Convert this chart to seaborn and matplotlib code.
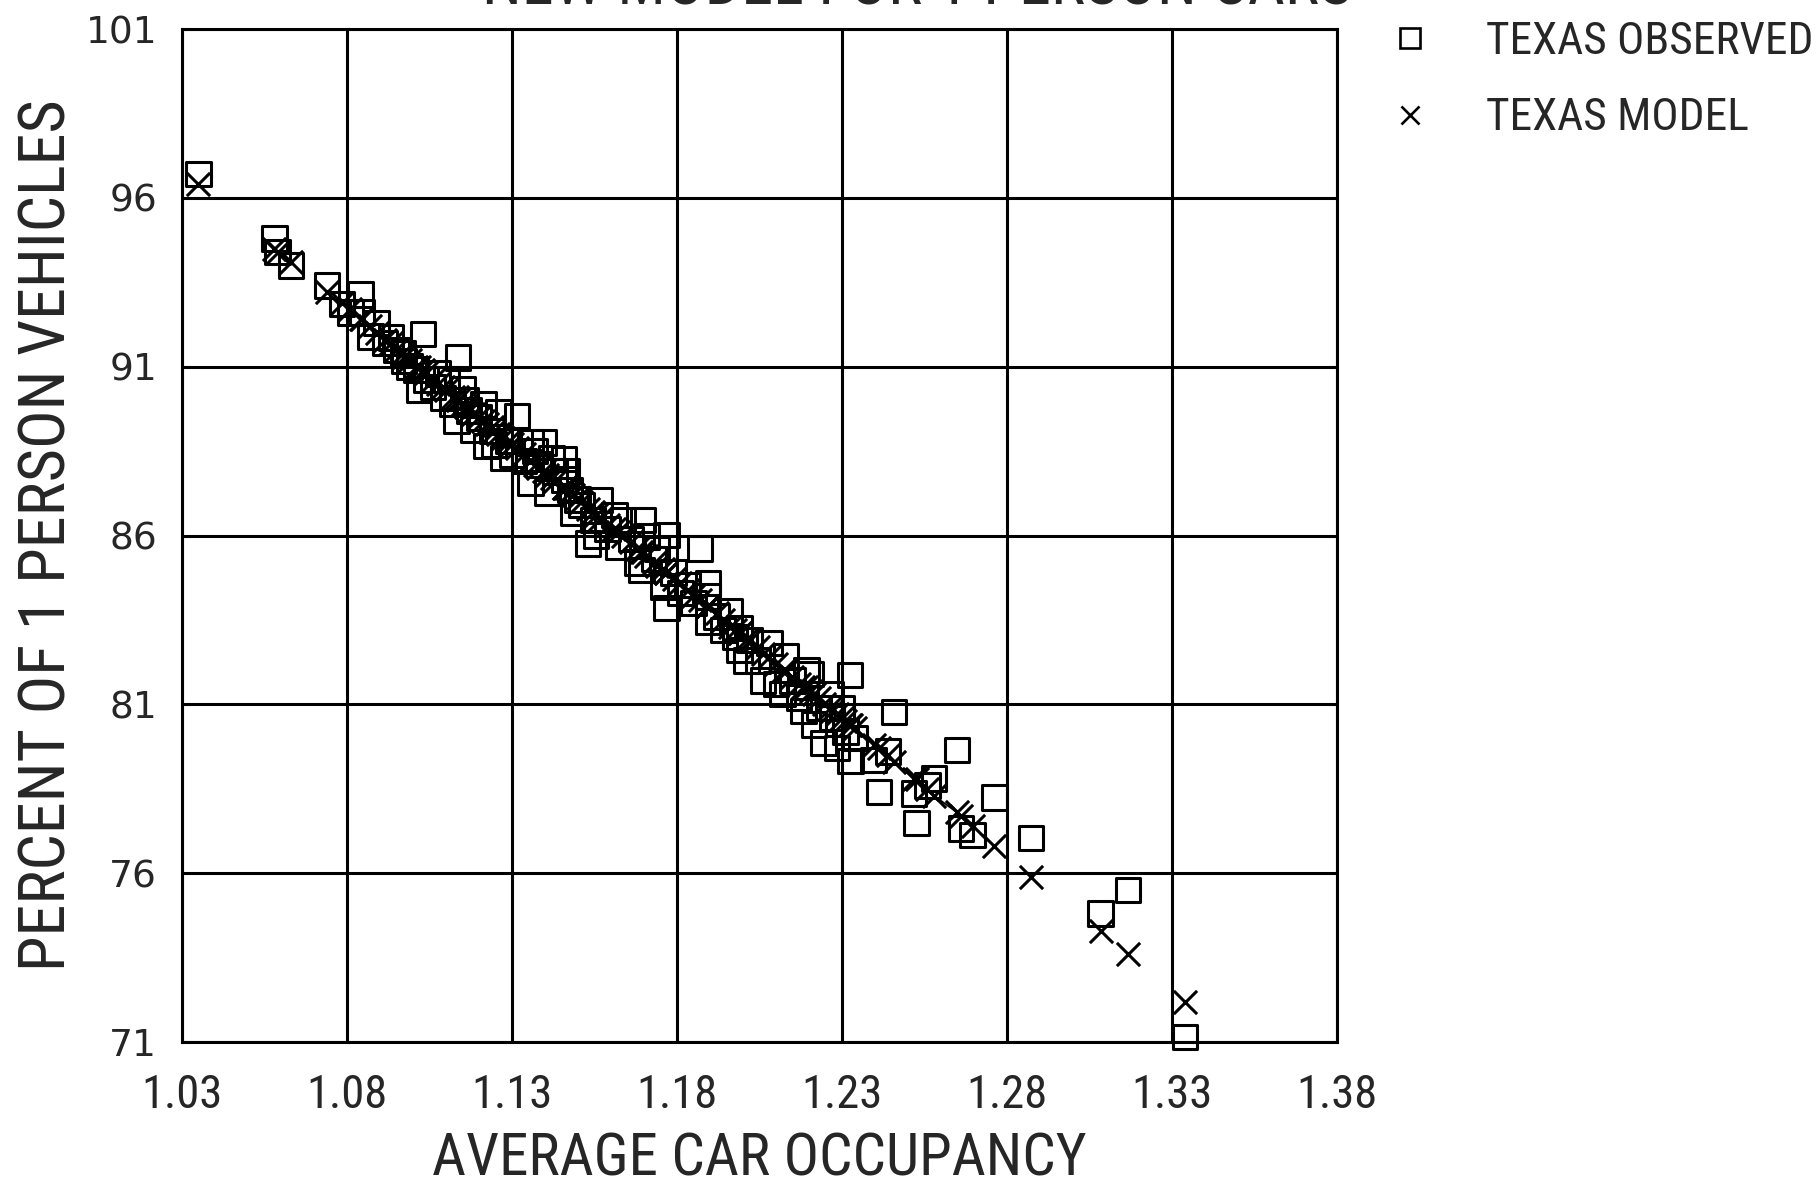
import os
import numpy as np
import pandas as pd
import seaborn as sns
import matplotlib.pyplot as plt
from matplotlib import font_manager
from matplotlib.font_manager import FontProperties
from matplotlib.lines import Line2D

# Average car occupancy for each count site
occupancy = [
    1.035, 1.058, 1.059, 1.063, 1.074, 1.0785, 1.081, 1.0841, 1.0846, 1.0871,
    1.0933, 1.097, 1.0973, 1.1009, 1.103, 1.104, 1.1019, 1.106, 1.1091, 1.1101,
    1.112, 1.1132, 1.1137, 1.1152, 1.117, 1.1183, 1.12, 1.1213, 1.1223, 1.124,
    1.1259, 1.1274, 1.129, 1.1315, 1.1336, 1.1356, 1.1356, 1.138, 1.1397, 1.1407,
    1.143, 1.1458, 1.1458, 1.1465, 1.1475, 1.1485, 1.1499, 1.153, 1.1545, 1.1566,
    1.159, 1.1621, 1.1636, 1.166, 1.1692, 1.1697, 1.1707, 1.173, 1.1758, 1.1768,
    1.1768, 1.179, 1.1833, 1.185, 1.1869, 1.1894, 1.1894, 1.1894, 1.192, 1.196,
    1.1975, 1.199, 1.199, 1.202, 1.2045, 1.206, 1.208, 1.21, 1.213, 1.215,
    1.217, 1.2183, 1.2192, 1.2205, 1.2215, 1.2244, 1.2265, 1.227, 1.2285, 1.23,
    1.231, 1.2325, 1.2326, 1.234, 1.2396, 1.2412, 1.2457, 1.244, 1.2518, 1.2526,
    1.2559, 1.2579, 1.2648, 1.266, 1.2696, 1.2762, 1.2873, 1.3084, 1.3167, 1.334,
    1.089, 1.0915, 1.095, 1.099, 1.1075, 1.116, 1.1245, 1.13, 1.137, 1.142,
    1.151, 1.1555, 1.161, 1.168, 1.174, 1.181, 1.194, 1.201, 1.212, 1.223,
]

# Observed percent of 1 person vehicles
observed = [
    96.7, 94.8, 94.4, 94.0, 93.4, 92.85, 92.6, 93.14, 92.6, 91.9,
    91.86, 91.4, 91.17, 90.92, 91.96, 90.62, 90.33, 90.4, 90.08, 90.62,
    89.9, 89.39, 91.27, 90.33, 89.7, 89.14, 89.5, 89.88, 88.65, 89.1,
    89.64, 88.3, 88.8, 89.54, 88.2, 88.75, 87.56, 88.1, 88.75, 87.27,
    87.9, 88.26, 87.66, 87.9, 87.35, 86.66, 87.07, 85.77, 86.46, 87.06,
    86.2, 85.67, 86.46, 85.9, 84.98, 86.46, 85.97, 85.3, 84.49, 86.02,
    83.85, 84.9, 84.54, 84.0, 85.62, 84.59, 84.19, 83.45, 83.6, 83.75,
    83.0, 83.26, 82.61, 82.9, 82.3, 81.7, 82.81, 81.6, 82.42, 81.7,
    81.2, 80.8, 82.02, 81.9, 80.4, 79.85, 81.3, 80.6, 79.7, 80.9,
    80.2, 81.87, 79.32, 80.0, 79.35, 78.41, 80.78, 79.6, 78.36, 77.48,
    78.6, 78.8, 79.65, 77.33, 77.13, 78.24, 77.05, 74.8, 75.5, 71.15,
    92.3, 91.7, 91.5, 91.0, 90.8, 90.0, 88.7, 88.4, 88.5, 88.3,
    86.9, 86.0, 86.6, 85.2, 85.6, 84.3, 83.2, 82.3, 81.3, 80.9,
]

# Model prediction at the same sites
model = [
    96.4, 94.5, 94.4, 94.1, 93.2, 92.9, 92.7, 92.4, 92.4, 92.2,
    91.7, 91.4, 91.3, 91.0, 90.9, 90.8, 91.0, 90.6, 90.4, 90.3,
    90.1, 90.1, 90.0, 89.9, 89.7, 89.6, 89.5, 89.4, 89.3, 89.2,
    89.0, 88.9, 88.8, 88.6, 88.4, 88.2, 88.2, 88.0, 87.9, 87.8,
    87.6, 87.4, 87.4, 87.4, 87.3, 87.2, 87.1, 86.8, 86.7, 86.5,
    86.3, 86.1, 86.0, 85.8, 85.5, 85.5, 85.4, 85.2, 85.0, 84.9,
    84.9, 84.7, 84.4, 84.2, 84.1, 83.9, 83.9, 83.9, 83.7, 83.3,
    83.2, 83.1, 83.1, 82.9, 82.7, 82.5, 82.4, 82.2, 82.0, 81.8,
    81.6, 81.5, 81.5, 81.4, 81.3, 81.0, 80.9, 80.8, 80.7, 80.6,
    80.5, 80.4, 80.4, 80.3, 79.8, 79.7, 79.3, 79.5, 78.8, 78.8,
    78.5, 78.3, 77.8, 77.7, 77.4, 76.8, 75.9, 74.3, 73.6, 72.2,
    92.0, 91.8, 91.5, 91.2, 90.5, 89.8, 89.1, 88.7, 88.1, 87.7,
    87.0, 86.6, 86.2, 85.6, 85.1, 84.6, 83.5, 82.9, 82.0, 81.2,
]

x_ticks = [1.03, 1.08, 1.13, 1.18, 1.23, 1.28, 1.33, 1.38]
y_ticks = [71, 76, 81, 86, 91, 96, 101]
legend_labels = ['TEXAS OBSERVED', 'TEXAS MODEL']

df = pd.DataFrame({'occupancy': occupancy, 'observed': observed, 'model': model})

sns.set_style('white')


# look for a narrow / condensed sans face, the scan uses one
def find_narrow():
    order = ['liberation sans narrow', 'roboto condensed', 'dejavu sans',
             'noto sans', 'open sans', 'arimo', 'inter', 'lato']
    found = []
    for f in font_manager.fontManager.ttflist:
        key = (f.name + ' ' + str(f.stretch) + ' ' + os.path.basename(f.fname)).lower()
        if not ('narrow' in key or 'condensed' in key):
            continue
        if f.style != 'normal' or f.weight not in (400, 'normal', 'regular', 'book'):
            continue
        if any(w in key for w in ('semi', 'extra', 'ultra', 'light', 'bold', 'medium', 'thin')):
            continue
        rank = next((i for i, n in enumerate(order) if f.name.lower().startswith(n)), 99)
        found.append((rank, f.fname))
    if found:
        return sorted(found)[0][1]
    return font_manager.findfont('Liberation Sans')


narrow = FontProperties(fname=find_narrow())
plt.rcParams['font.family'] = ['Liberation Sans', 'DejaVu Sans']

fig = plt.figure(figsize=(18.2, 11.89), dpi=100)
ax = fig.add_axes([0.100, 0.1236, 0.6346, 0.852])

# Observed sites
sns.scatterplot(data=df, x='occupancy', y='observed', marker='s', s=310,
                facecolor='none', edgecolor='black', linewidth=2.2,
                clip_on=False, zorder=3, ax=ax)

# Model line through the dense tail, then model points
tail = df[(df.occupancy >= 1.18) & (df.occupancy <= 1.277)].sort_values('occupancy')
ax.plot(tail.occupancy, tail.model, color='black', linewidth=1.2, zorder=3)
sns.scatterplot(data=df, x='occupancy', y='model', marker='x', s=280,
                color='black', linewidth=2.2, clip_on=False, zorder=4, ax=ax)

ax.set_xlim(1.03, 1.38)
ax.set_ylim(71, 101)
ax.set_xticks(x_ticks)
ax.set_xticklabels([f'{t:.2f}' for t in x_ticks], fontproperties=narrow, fontsize=31)
ax.set_yticks(y_ticks)
ax.set_yticklabels([str(t) for t in y_ticks], family='DejaVu Sans', fontsize=27)
ax.tick_params(axis='both', direction='out', length=14, width=1.8, color='black')
ax.tick_params(axis='x', pad=8)
ax.tick_params(axis='y', pad=4)
ax.grid(True, color='black', linewidth=2.2)
for sp in ax.spines.values():
    sp.set_color('black')
    sp.set_linewidth(2.2)

xl = ax.set_xlabel('AVERAGE CAR OCCUPANCY', fontproperties=narrow, fontsize=38, labelpad=10)
yl = ax.set_ylabel('PERCENT OF 1 PERSON VEHICLES', fontproperties=narrow, fontsize=40, labelpad=5)
title = fig.text(0.504, 0.996, 'NEW MODEL FOR 1 PERSON CARS', fontproperties=narrow,
                 fontsize=38, ha='center', va='baseline')
probe = fig.text(0, 0, legend_labels[0], fontproperties=narrow, fontsize=30)


# scale a text so that its long side spans the width seen in the scan
def fit(text, target_px):
    fig.canvas.draw()
    bb = text.get_window_extent()
    text.set_fontsize(text.get_fontsize() * target_px / max(bb.width, bb.height))


fit(xl, 655)
fit(yl, 870)
fit(title, 870)
fit(probe, 327)
for lab in ax.get_xticklabels():
    fit(lab, 81)
    break
tick_fs = ax.get_xticklabels()[0].get_fontsize()
for lab in ax.get_xticklabels():
    lab.set_fontsize(tick_fs)
leg_fs = probe.get_fontsize()
probe.remove()

# legend: markers centred at x=1410px, text starting at 1486px, rows 76px apart
em = leg_fs * 100 / 72
handles = [
    Line2D([], [], marker='s', linestyle='none', markersize=14,
           markerfacecolor='none', markeredgecolor='black', markeredgewidth=1.9),
    Line2D([], [], marker='x', linestyle='none', markersize=13,
           color='black', markeredgewidth=1.9),
]
leg_prop = narrow.copy()
leg_prop.set_size(leg_fs)
fig.legend(handles, legend_labels, loc='upper left',
           bbox_to_anchor=((1410 - em / 2) / 1820, 1 - (48 - 0.6 * em) / 1189),
           frameon=False, prop=leg_prop,
           handlelength=1.0, handletextpad=(76 - em / 2) / em,
           labelspacing=(89 - 1.2 * em) / em,
           borderpad=0, borderaxespad=0)

fig.savefig('out.png', dpi=100, facecolor='white')
